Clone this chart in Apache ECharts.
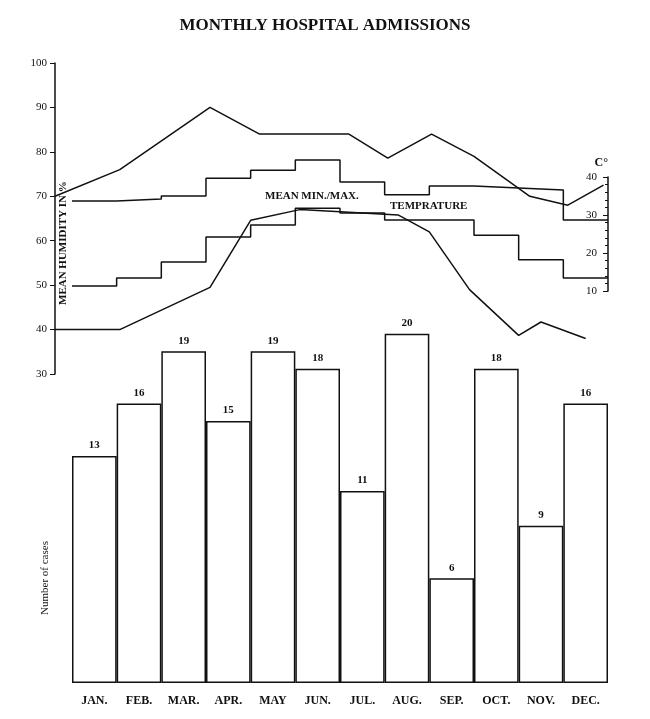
<!DOCTYPE html>
<html>
<head>
<meta charset="UTF-8">
<style>html,body{margin:0;background:#fff}#c{width:650px;height:719px}</style>
<script src="https://cdn.jsdelivr.net/npm/echarts@6/dist/echarts.min.js"></script>
</head>
<body>
<div id="c"></div>
<script>
var months = ['JAN.','FEB.','MAR.','APR.','MAY','JUN.','JUL.','AUG.','SEP.','OCT.','NOV.','DEC.'];
var cases = [13,16,19,15,19,18,11,20,6,18,9,16];
var tempMax = [33.7,34.2,35,39.7,41.8,44.5,38.7,35.3,37.6,37.1,36.6,28.7];
var tempMin = [11.3,13.4,17.6,24.2,27.4,31.8,30.5,28.7,28.7,24.7,18.2,13.4];
// humidity traces: [month position, %]
var humidityA = [[-0.38,70],[1.07,76],[3.09,90],[4.2,84],[6.2,84],[7.07,78.6],[8.05,84],[9.0,79],[10.25,70],[11.1,68],[11.9,72.5]];
var humidityB = [[-0.38,40],[1.07,40],[3.09,49.5],[4.0,64.6],[5.1,67],[7.3,65.8],[8.0,62],[8.9,49],[10.0,38.7],[10.5,41.7],[11.5,38]];

function steps(v){
  var d = v.map(function(y,i){return [i,y];});
  d.push([v.length, v[v.length-1]]);
  return d;
}
var serif = 'Liberation Serif';
var ink = '#111';
var chart = echarts.init(document.getElementById('c'));
chart.setOption({
  backgroundColor:'#fff',
  animation:false,
  title:{text:'MONTHLY HOSPITAL ADMISSIONS',left:'center',top:12,
    textStyle:{fontFamily:serif,fontSize:17,fontWeight:'bold',color:ink}},
  grid:[
    {left:72,right:42,top:63,bottom:36},
    {left:55,right:42,top:63,bottom:345},
    {left:55,right:42,top:177,bottom:428}
  ],
  xAxis:[
    {gridIndex:0,type:'category',data:months,axisTick:{show:false},axisLine:{show:false},
      axisLabel:{fontFamily:serif,fontWeight:'bold',fontSize:12,color:ink,margin:12}},
    {gridIndex:1,type:'value',min:-0.38,max:12,show:false},
    {gridIndex:2,type:'value',min:-0.38,max:12,show:false}
  ],
  yAxis:[
    {gridIndex:0,type:'value',min:0,max:35.5,show:false},
    {gridIndex:1,type:'value',min:30,max:100,interval:10,splitLine:{show:false},
      axisLine:{show:true,onZero:false,lineStyle:{color:ink,width:1.5}},axisTick:{show:true,lineStyle:{color:ink}},
      axisLabel:{fontFamily:serif,fontSize:11,color:ink}},
    {gridIndex:2,type:'value',min:10,max:40,interval:10,position:'right',splitLine:{show:false},
      name:'C°',nameGap:8,nameTextStyle:{fontFamily:serif,fontWeight:'bold',color:ink,align:'right'},
      axisLine:{show:true,onZero:false,lineStyle:{color:ink,width:1.5}},axisTick:{show:true,inside:true,lineStyle:{color:ink}},
      minorTick:{show:true,splitNumber:5,lineStyle:{color:ink}},
      axisLabel:{fontFamily:serif,fontSize:11,color:ink,inside:false,margin:-22}}
  ],
  graphic:[
    {type:'text',x:58,y:305,rotation:Math.PI/2,
      style:{text:'MEAN HUMIDITY IN %',font:'bold 11px "Liberation Serif"',fill:ink}},
    {type:'text',x:40,y:615,rotation:Math.PI/2,
      style:{text:'Number of cases',font:'11px "Liberation Serif"',fill:ink}},
    {type:'text',left:265,top:191,style:{text:'MEAN MIN./MAX.',font:'bold 11px "Liberation Serif"',fill:ink}},
    {type:'text',left:390,top:201,style:{text:'TEMPRATURE',font:'bold 11px "Liberation Serif"',fill:ink}}
  ],
  series:[
    {type:'bar',xAxisIndex:0,yAxisIndex:0,data:cases,barCategoryGap:'0%',
      itemStyle:{color:'#fff',borderColor:ink,borderWidth:1.5},
      label:{show:true,position:'top',fontFamily:serif,fontWeight:'bold',fontSize:11,color:ink}},
    {type:'line',xAxisIndex:1,yAxisIndex:1,data:humidityA,symbol:'none',lineStyle:{color:ink,width:1.5}},
    {type:'line',xAxisIndex:1,yAxisIndex:1,data:humidityB,symbol:'none',lineStyle:{color:ink,width:1.5}},
    {type:'line',xAxisIndex:2,yAxisIndex:2,data:steps(tempMax),step:'end',clip:false,symbol:'none',lineStyle:{color:ink,width:1.5}},
    {type:'line',xAxisIndex:2,yAxisIndex:2,data:steps(tempMin),step:'end',clip:false,symbol:'none',lineStyle:{color:ink,width:1.5}}
  ]
});
</script>
</body>
</html>
